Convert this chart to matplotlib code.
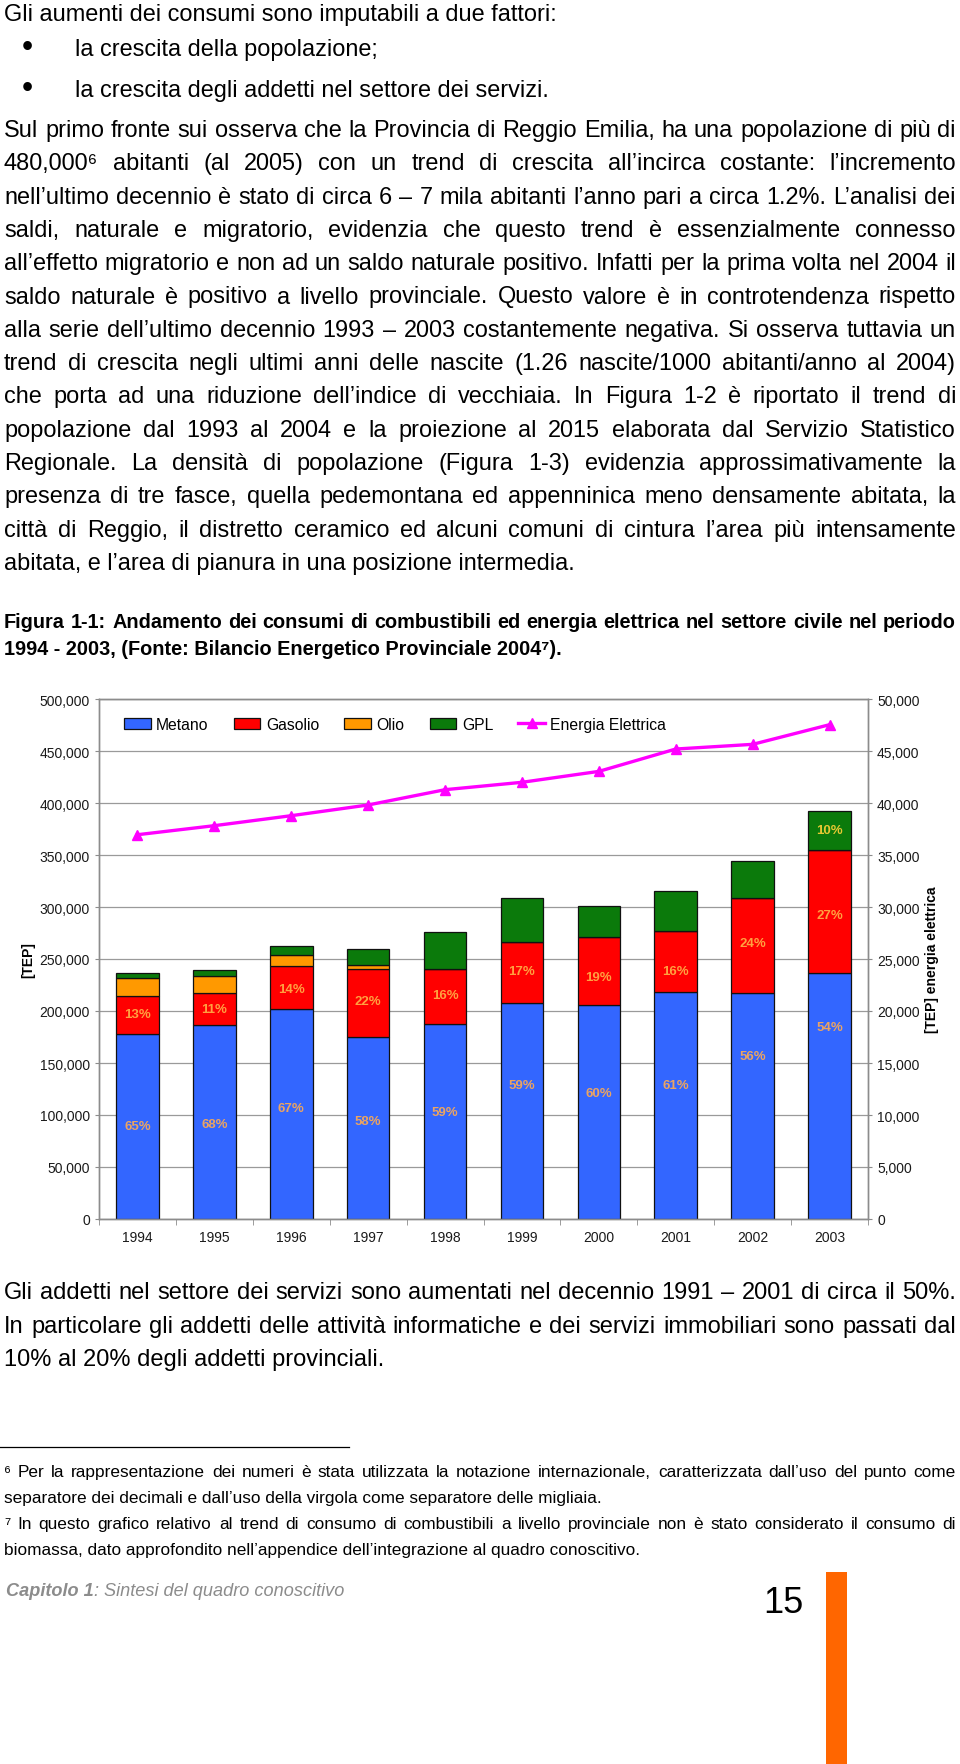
import matplotlib
matplotlib.use('Agg')
import matplotlib.pyplot as plt
from matplotlib import font_manager
from matplotlib.patches import Rectangle
from matplotlib.lines import Line2D
from matplotlib.ticker import FuncFormatter
import numpy as np

W, H = 960, 1765

# dati del grafico (TEP)
anni = ['1994', '1995', '1996', '1997', '1998', '1999', '2000', '2001', '2002', '2003']
metano = [178200, 186800, 202200, 174700, 187500, 207700, 206000, 218000, 217300, 236800]
gasolio = [35900, 30200, 41100, 65300, 52500, 58300, 64800, 59200, 91400, 117700]
olio = [17600, 16700, 10500, 4600, 500, 0, 0, 0, 0, 0]
gpl = [5200, 6000, 8400, 15000, 35100, 42700, 30500, 38200, 35200, 38100]
energia = [36950, 37820, 38780, 39810, 41280, 41990, 43040, 45190, 45640, 47530]

perc_metano = [65, 68, 67, 58, 59, 59, 60, 61, 56, 54]
perc_gasolio = [13, 11, 14, 22, 16, 17, 19, 16, 24, 27]
perc_gpl = [None, None, None, None, None, None, None, None, None, 10]

# posizione delle etichette dentro il segmento (frazione dell'altezza)
pos_metano = [0.50, 0.49, 0.53, 0.54, 0.55, 0.62, 0.59, 0.59, 0.72, 0.78]
pos_gasolio = [0.53, 0.50, 0.46, 0.53, 0.53, 0.53, 0.41, 0.35, 0.53, 0.47]

nomi = ['Metano', 'Gasolio', 'Olio', 'GPL']
colori = ['#3366FF', '#FF0000', '#FF9900', '#0B7A0B']

FONT = ['Liberation Sans', 'DejaVu Sans']
nomi_font = {f.name for f in font_manager.fontManager.ttflist}
if 'Liberation Sans Narrow' in nomi_font:
    NARROW = ['Liberation Sans Narrow', 'DejaVu Sans']
else:
    NARROW = FONT
plt.rcParams['font.family'] = FONT

fig = plt.figure(figsize=(W / 100, H / 100), dpi=100)
renderer = fig.canvas.get_renderer()


def larghezza(s, size, **kw):
    t = fig.text(0, 0, s, fontsize=size, **kw)
    w = t.get_window_extent(renderer).width
    t.remove()
    return w


def misura(s, target, **kw):
    return 10 * target / larghezza(s, 10, **kw)


def riga(s, x0, y, size, x1=None, **kw):
    # riga di testo; se x1 e' dato la riga viene giustificata
    if x1 is None:
        fig.text(x0 / W, 1 - y / H, s, fontsize=size, va='baseline', ha='left', **kw)
        return
    nat = larghezza(s, size, **kw)
    if nat > x1 - x0:
        size = size * (x1 - x0) / nat * 0.99
    parole = s.split(' ')
    ws = [larghezza(p, size, **kw) for p in parole]
    gap = (x1 - x0 - sum(ws)) / (len(parole) - 1)
    xx = x0
    for p, wi in zip(parole, ws):
        fig.text(xx / W, 1 - y / H, p, fontsize=size, va='baseline', ha='left', **kw)
        xx += wi + gap


# ---- testo sopra il grafico ----
intro = 'Gli aumenti dei consumi sono imputabili a due fattori:'
paragrafo = [
    'Sul primo fronte sui osserva che la Provincia di Reggio Emilia, ha una popolazione di più di',
    '480,000\u2076 abitanti (al 2005) con un trend di crescita all\u2019incirca costante: l\u2019incremento',
    'nell\u2019ultimo decennio è stato di circa 6 \u2013 7 mila abitanti l\u2019anno pari a circa 1.2%. L\u2019analisi dei',
    'saldi, naturale e migratorio, evidenzia che questo trend è essenzialmente connesso',
    'all\u2019effetto migratorio e non ad un saldo naturale positivo. Infatti per la prima volta nel 2004 il',
    'saldo naturale è positivo a livello provinciale. Questo valore è in controtendenza rispetto',
    'alla serie dell\u2019ultimo decennio 1993 \u2013 2003 costantemente negativa. Si osserva tuttavia un',
    'trend di crescita negli ultimi anni delle nascite (1.26 nascite/1000 abitanti/anno al 2004)',
    'che porta ad una riduzione dell\u2019indice di vecchiaia. In Figura 1-2 è riportato il trend di',
    'popolazione dal 1993 al 2004 e la proiezione al 2015 elaborata dal Servizio Statistico',
    'Regionale. La densità di popolazione (Figura 1-3) evidenzia approssimativamente la',
    'presenza di tre fasce, quella pedemontana ed appenninica meno densamente abitata, la',
    'città di Reggio, il distretto ceramico ed alcuni comuni di cintura l\u2019area più intensamente',
    'abitata, e l\u2019area di pianura in una posizione intermedia.',
]
s_body = (misura(intro, 553) + misura(paragrafo[-1], 572)) / 2

riga(intro, 4, 21, s_body)
for yb, s in zip([56, 97], ['la crescita della popolazione;',
                            'la crescita degli addetti nel settore dei servizi.']):
    fig.text(27 / W, 1 - yb / H, '\u2022', fontsize=s_body * 1.35, va='baseline', ha='center')
    riga(s, 75, yb, s_body)
for i, s in enumerate(paragrafo):
    yb = 137 + i * 33.3
    riga(s, 4, yb, s_body, None if i == len(paragrafo) - 1 else 956)

cap1 = 'Figura 1-1: Andamento dei consumi di combustibili ed energia elettrica nel settore civile nel periodo'
cap2 = '1994 - 2003, (Fonte: Bilancio Energetico Provinciale 2004\u2077).'
s_cap = misura(cap2, 556, family=NARROW, weight='bold')
riga(cap1, 4, 627.5, s_cap, 956, family=NARROW, weight='bold')
riga(cap2, 4, 655, s_cap, family=NARROW, weight='bold')

# ---- grafico ----
ax = fig.add_axes([99 / W, 1 - 1220 / H, 769 / W, 520 / H])
x = np.arange(len(anni))
base = np.zeros(len(anni))
barre = []
for vals, col, nome in zip([metano, gasolio, olio, gpl], colori, nomi):
    b = ax.bar(x, vals, 0.555, bottom=base, color=col, edgecolor='#111111',
               linewidth=0.9, label=nome, zorder=3)
    barre.append(b)
    base = base + np.array(vals)

ax.set_xlim(-0.5, 9.5)
ax.set_ylim(0, 500000)
ax.set_yticks(np.arange(0, 500001, 50000))
ax.yaxis.set_major_formatter(FuncFormatter(lambda v, p: f'{v:,.0f}'))
ax.grid(axis='y', color='#9a9a9a', linewidth=0.9, zorder=0)
ax.set_axisbelow(True)
ax.set_xticks(x)
ax.set_xticklabels(anni)
ax.set_xticks(np.arange(-0.5, 10, 1), minor=True)
ax.tick_params(axis='x', which='major', length=0, pad=8, labelsize=10, labelcolor='#1a1a1a')
ax.tick_params(axis='x', which='minor', length=4, color='#8c8c8c')
ax.tick_params(axis='y', length=3, pad=3.5, labelsize=10, color='#8c8c8c', labelcolor='#1a1a1a')

for i in range(len(anni)):
    ax.text(x[i], metano[i] * pos_metano[i], f'{perc_metano[i]}%', ha='center', va='center',
            color='#EBA462', fontsize=9.5, fontweight='bold', zorder=5)
    ax.text(x[i], metano[i] + gasolio[i] * pos_gasolio[i], f'{perc_gasolio[i]}%', ha='center',
            va='center', color='#FFA040', fontsize=9.5, fontweight='bold', zorder=5)
    if perc_gpl[i] is not None:
        ax.text(x[i], metano[i] + gasolio[i] + olio[i] + gpl[i] * 0.52, f'{perc_gpl[i]}%',
                ha='center', va='center', color='#E6C832', fontsize=9.5, fontweight='bold',
                zorder=5)

ax2 = ax.twinx()
linea, = ax2.plot(x, energia, color='#FF00FF', linewidth=2.4, marker='^', markersize=7,
                  label='Energia Elettrica', zorder=4)
ax2.set_ylim(0, 50000)
ax2.set_yticks(np.arange(0, 50001, 5000))
ax2.yaxis.set_major_formatter(FuncFormatter(lambda v, p: f'{v:,.0f}'))
ax2.tick_params(axis='y', length=3, pad=3.5, labelsize=10, color='#8c8c8c', labelcolor='#1a1a1a')

for a in (ax, ax2):
    for sp in a.spines.values():
        sp.set_color('#8c8c8c')
        sp.set_linewidth(1)

ax.set_ylabel('[TEP]', fontsize=10, fontweight='bold')
ax.yaxis.label.set_verticalalignment('center')
ax.yaxis.set_label_coords((28 - 99) / 769, 0.5)
ax2.set_ylabel('[TEP] energia elettrica', fontsize=10, fontweight='bold')
ax2.yaxis.label.set_verticalalignment('center')
ax2.yaxis.set_label_coords((932 - 99) / 769, 0.5)

ax2.legend(barre + [linea], nomi + ['Energia Elettrica'], ncol=5, loc='center left',
           bbox_to_anchor=(25 / 769, 1 - 25 / 520), frameon=False, fontsize=11.3,
           handlelength=1.7, handletextpad=0.35, columnspacing=1.6,
           borderpad=0, borderaxespad=0)

# ---- testo sotto il grafico ----
addetti = [
    'Gli addetti nel settore dei servizi sono aumentati nel decennio 1991 \u2013 2001 di circa il 50%.',
    'In particolare gli addetti delle attività informatiche e dei servizi immobiliari sono passati dal',
    '10% al 20% degli addetti provinciali.',
]
s_add = misura(addetti[2], 379)
riga(addetti[0], 4, 1299, s_add, 956)
riga(addetti[1], 4, 1333, s_add, 956)
riga(addetti[2], 4, 1366, s_add)

fig.add_artist(Line2D([0, 349 / W], [1 - 1448 / H, 1 - 1448 / H], color='black', linewidth=0.9))

note = [
    '\u2076 Per la rappresentazione dei numeri è stata utilizzata la notazione internazionale, caratterizzata dall\u2019uso del punto come',
    'separatore dei decimali e dall\u2019uso della virgola come separatore delle migliaia.',
    '\u2077 In questo grafico relativo al trend di consumo di combustibili a livello provinciale non è stato considerato il consumo di',
    'biomassa, dato approfondito nell\u2019appendice dell\u2019integrazione al quadro conoscitivo.',
]
s_note = (misura(note[1], 589) + misura(note[3], 650)) / 2
for i, s in enumerate(note):
    riga(s, 4, 1477 + i * 26, s_note, 956 if i % 2 == 0 else None)

# piè di pagina
pie1 = 'Capitolo 1'
pie2 = ': Sintesi del quadro conoscitivo'
s_pie = misura(pie1 + pie2, 334, family=NARROW, style='italic')
w1 = larghezza(pie1, s_pie, family=NARROW, style='italic', weight='bold')
fig.text(6 / W, 1 - 1596 / H, pie1, fontsize=s_pie, family=NARROW, style='italic',
         weight='bold', color='#8C8C8C', va='baseline')
fig.text((6 + w1) / W, 1 - 1596 / H, pie2, fontsize=s_pie, family=NARROW, style='italic',
         color='#8C8C8C', va='baseline')
fig.text(763 / W, 1 - 1613 / H, '15', fontsize=26, family=NARROW, va='baseline')
fig.add_artist(Rectangle((826 / W, 0), 21 / W, (H - 1573) / H, color='#FF6600', linewidth=0))

fig.savefig('out.png', dpi=100)
